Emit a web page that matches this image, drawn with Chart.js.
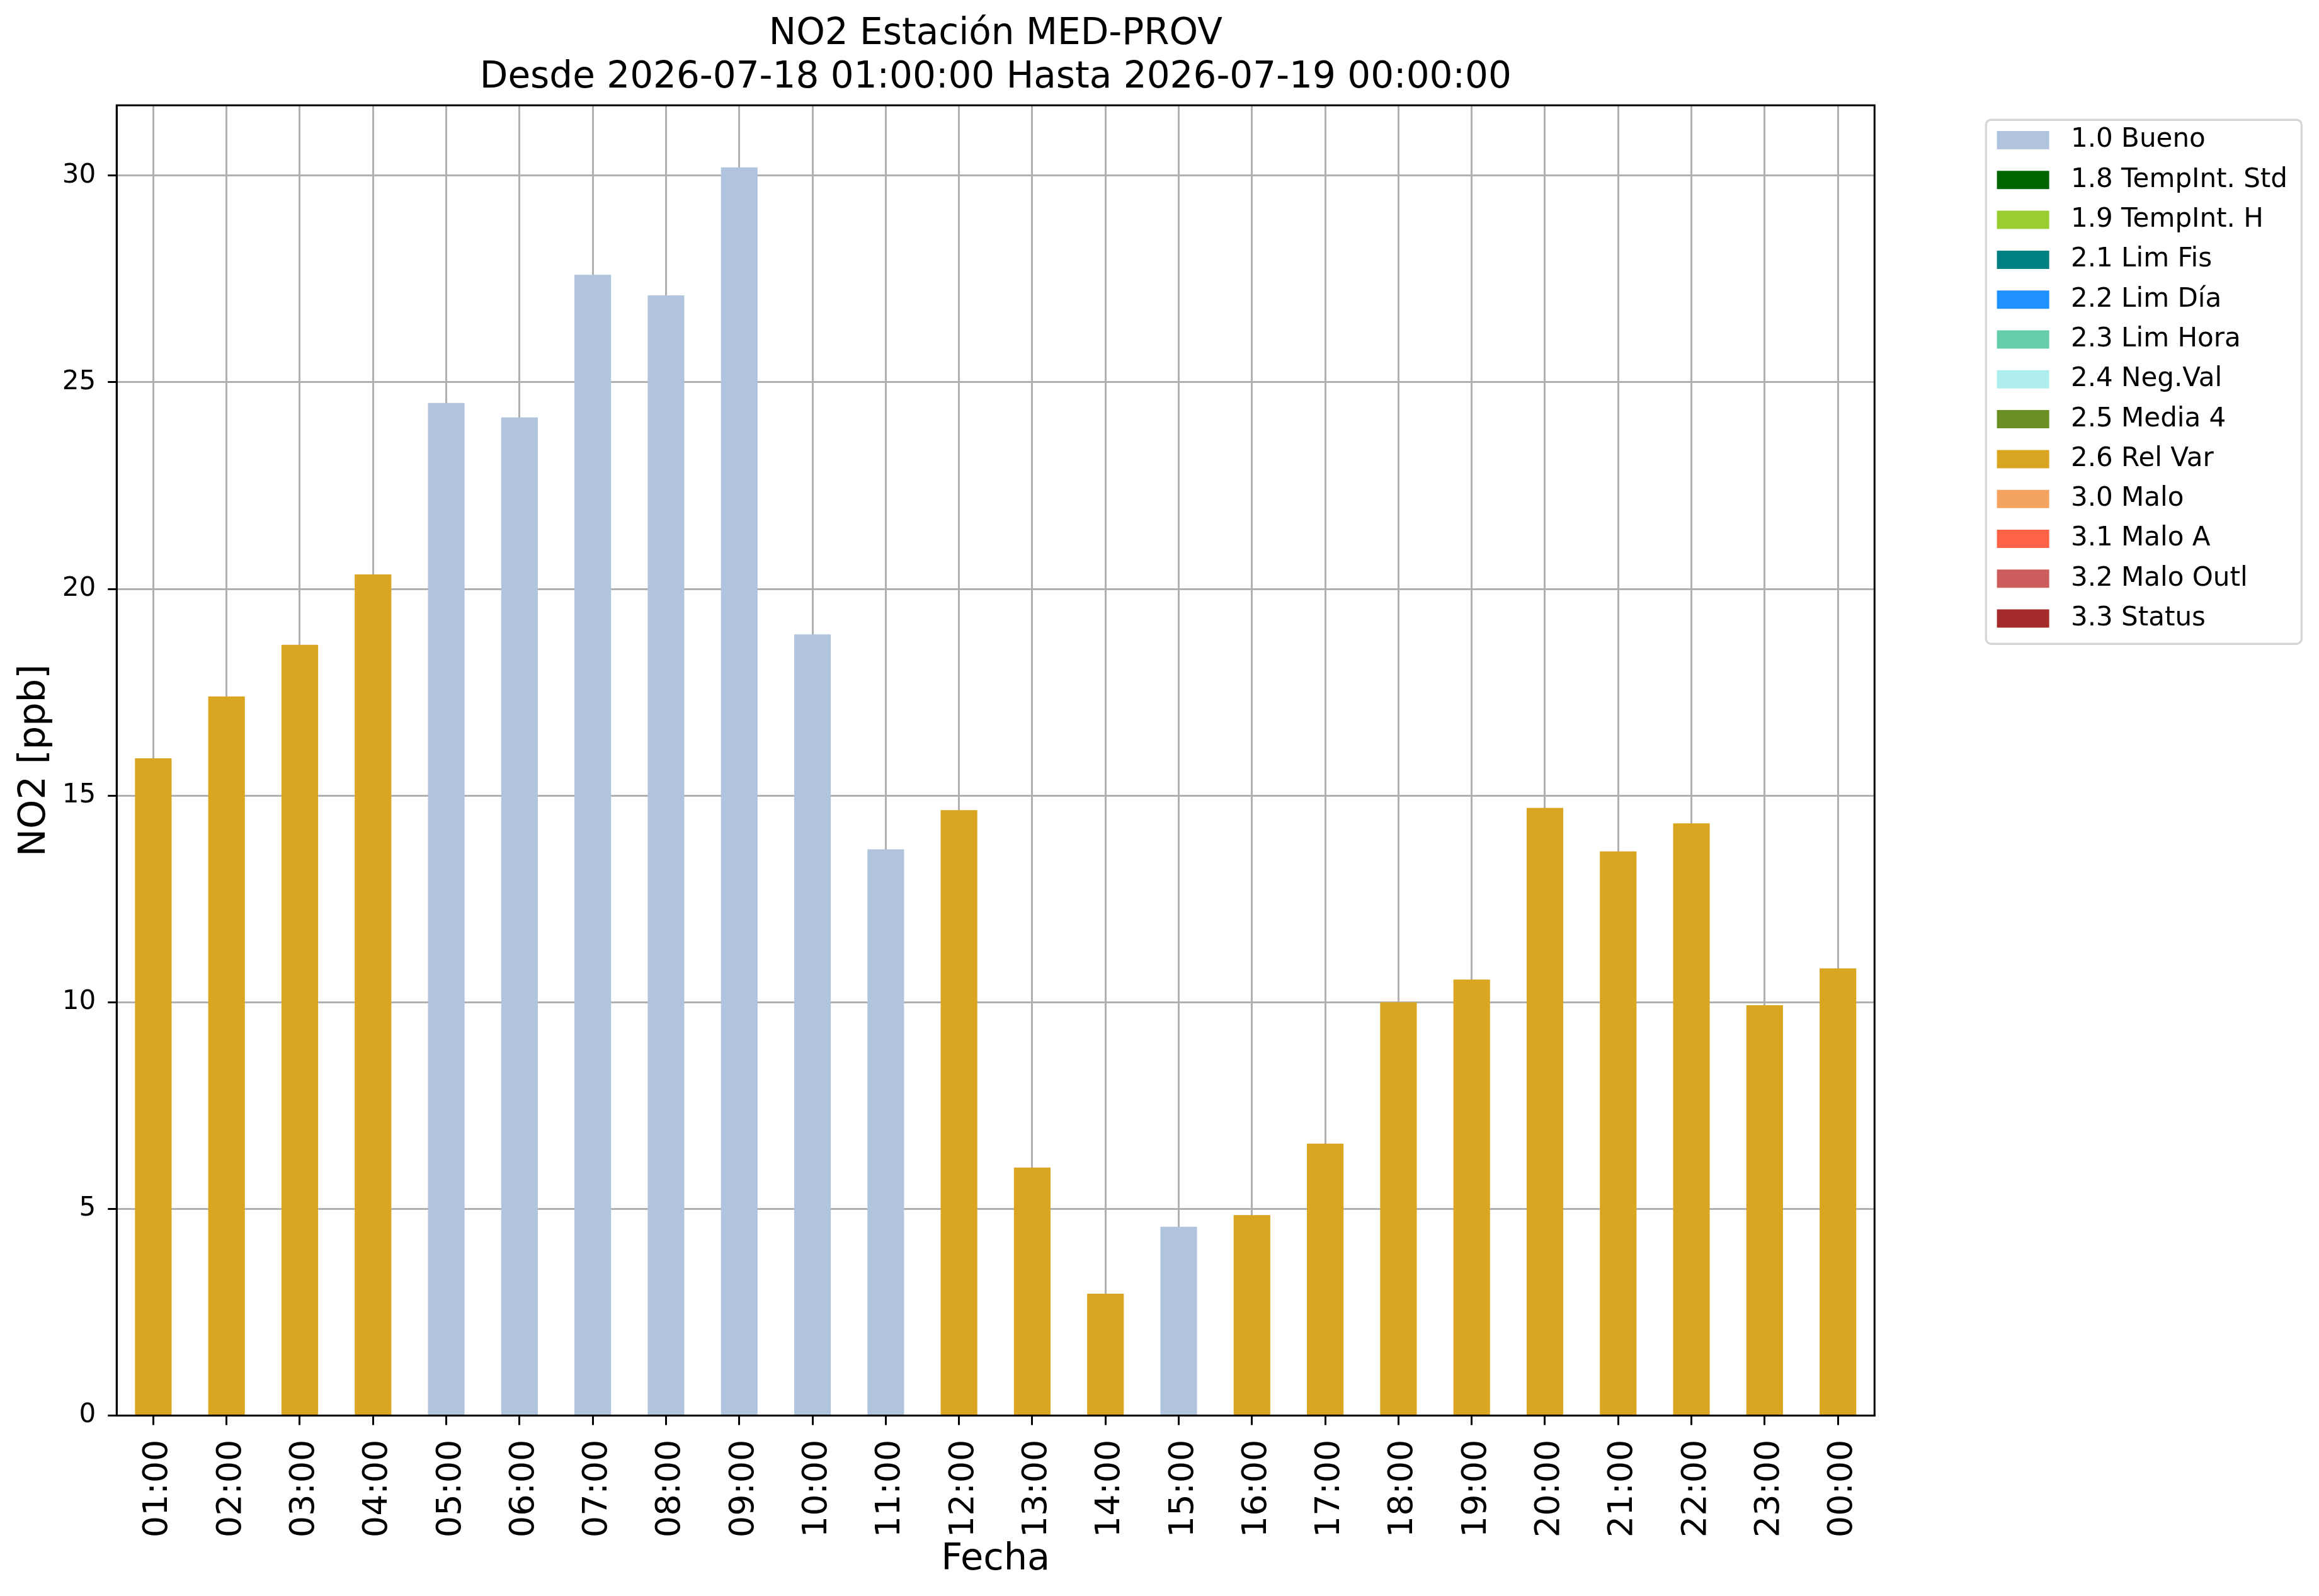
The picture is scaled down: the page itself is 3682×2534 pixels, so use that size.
<!DOCTYPE html>
<html>
<head>
<meta charset="utf-8">
<script src="https://cdn.jsdelivr.net/npm/chart.js@4.4.1/dist/chart.umd.min.js"></script>
<style>
  html, body { margin: 0; padding: 0; background: #fff; }
  #wrap { width: 3682px; height: 2534px; }
</style>
</head>
<body>
<div id="wrap"><canvas id="chart"></canvas></div>
<script>
// horas (etiquetas del eje x)
const hours = ["01:00", "02:00", "03:00", "04:00", "05:00", "06:00", "07:00", "08:00",
    "09:00", "10:00", "11:00", "12:00", "13:00", "14:00", "15:00", "16:00",
    "17:00", "18:00", "19:00", "20:00", "21:00", "22:00", "23:00", "00:00"];

// valores NO2 [ppb]
const no2 = [15.9, 17.4, 18.65, 20.35, 24.5, 24.15, 27.6, 27.1,
    30.2, 18.9, 13.7, 14.65, 6.0, 2.95, 4.57, 4.85,
    6.58, 10.0, 10.55, 14.7, 13.65, 14.33, 9.93, 10.82];

// flag de validacion de cada hora
const flags = ["2.6", "2.6", "2.6", "2.6", "1.0", "1.0", "1.0", "1.0",
    "1.0", "1.0", "1.0", "2.6", "2.6", "2.6", "1.0", "2.6",
    "2.6", "2.6", "2.6", "2.6", "2.6", "2.6", "2.6", "2.6"];

// categorias de la leyenda
const flagCodes = ["1.0", "1.8", "1.9", "2.1", "2.2", "2.3", "2.4", "2.5", "2.6", "3.0", "3.1", "3.2", "3.3"];
const flagNames = ["1.0 Bueno", "1.8 TempInt. Std", "1.9 TempInt. H", "2.1 Lim Fis", "2.2 Lim Día",
    "2.3 Lim Hora", "2.4 Neg.Val", "2.5 Media 4", "2.6 Rel Var", "3.0 Malo", "3.1 Malo A",
    "3.2 Malo Outl", "3.3 Status"];
const flagColors = ["#b0c4de", "#006400", "#9acd32", "#008080", "#1e90ff", "#66cdaa", "#afeeee",
    "#6b8e23", "#daa520", "#f4a460", "#ff6347", "#cd5c5c", "#a52a2a"];

const yTicks = [0, 5, 10, 15, 20, 25, 30];

Chart.defaults.font.family = "'DejaVu Sans'";
Chart.defaults.color = "#000";

const datasets = flagCodes.map((code, k) => {
    return {
        label: flagNames[k],
        backgroundColor: flagColors[k],
        borderWidth: 0,
        barPercentage: 0.5,
        categoryPercentage: 1.0,
        data: no2.map((v, i) => flags[i] === code ? v : null)
    };
});

// marco del area de grafico + marco de la leyenda
const framePlugin = {
    id: "frame",
    afterLayout(chart) {
        const lg = chart.legend;
        const dx = chart.chartArea.right + 173 - lg.left;
        lg.left += dx;
        lg.right += dx;
        lg.top += 13;
        lg.bottom += 13;
    },
    afterDraw(chart) {
        const ctx = chart.ctx;
        const a = chart.chartArea;
        const lg = chart.legend;
        ctx.save();
        ctx.strokeStyle = "#000";
        ctx.lineWidth = 3;
        ctx.strokeRect(a.left, a.top, a.right - a.left, a.bottom - a.top);
        ctx.strokeStyle = "#d6d6d6";
        ctx.lineWidth = 3.4;
        ctx.beginPath();
        ctx.roundRect(lg.left + 4, lg.top + 10, 501, 832, 8);
        ctx.stroke();
        ctx.restore();
    }
};

var chart;
const createChart = () => {
    const ctx = document.getElementById("chart").getContext("2d");
    chart = new Chart(ctx, {
        type: "bar",
        data: {
            labels: hours,
            datasets: datasets
        },
        options: {
            responsive: true,
            maintainAspectRatio: false,
            animation: false,
            layout: { padding: { left: 20, right: 213, top: 0, bottom: 22 } },
            plugins: {
                title: {
                    display: true,
                    fullSize: false,
                    text: ["NO2 Estación MED-PROV", "Desde 2026-07-18 01:00:00 Hasta 2026-07-19 00:00:00"],
                    color: "#000",
                    font: { size: 58, weight: "normal", lineHeight: 1.2 },
                    padding: { top: 20, bottom: 8 }
                },
                legend: {
                    position: "right",
                    align: "start",
                    fullSize: false,
                    labels: {
                        boxWidth: 83,
                        boxHeight: 29,
                        padding: 21.3,
                        color: "#000",
                        font: { size: 42 },
                        generateLabels: c => {
                            const items = Chart.defaults.plugins.legend.labels.generateLabels(c);
                            items.forEach(it => { it.text = " " + it.text; });
                            return items;
                        }
                    }
                },
                tooltip: { enabled: false }
            },
            scales: {
                x: {
                    stacked: true,
                    offset: true,
                    z: 1,
                    grid: { offset: false, color: "#b0b0b0", lineWidth: 3, tickLength: 15, tickColor: "#000", tickWidth: 3 },
                    border: { color: "#000", width: 3 },
                    ticks: { autoSkip: false, minRotation: 90, maxRotation: 90, padding: 23, labelOffset: 8, color: "#000", font: { size: 54 } },
                    title: { display: true, text: "Fecha", color: "#000", font: { size: 59 }, padding: { top: -23, bottom: 0 } }
                },
                y: {
                    stacked: true,
                    min: 0,
                    max: 31.7,
                    z: 1,
                    afterBuildTicks: scale => {
                        scale.ticks = yTicks.map(v => ({ value: v }));
                    },
                    grid: { color: "#b0b0b0", lineWidth: 3, tickLength: 14, tickColor: "#000", tickWidth: 3 },
                    border: { color: "#000", width: 3 },
                    ticks: { padding: 19, color: "#000", font: { size: 42 } },
                    title: { display: true, text: "NO2 [ppb]", color: "#000", font: { size: 59 }, padding: { top: 0, bottom: -11 } }
                }
            }
        },
        plugins: [framePlugin]
    });
};

createChart();
</script>
</body>
</html>
